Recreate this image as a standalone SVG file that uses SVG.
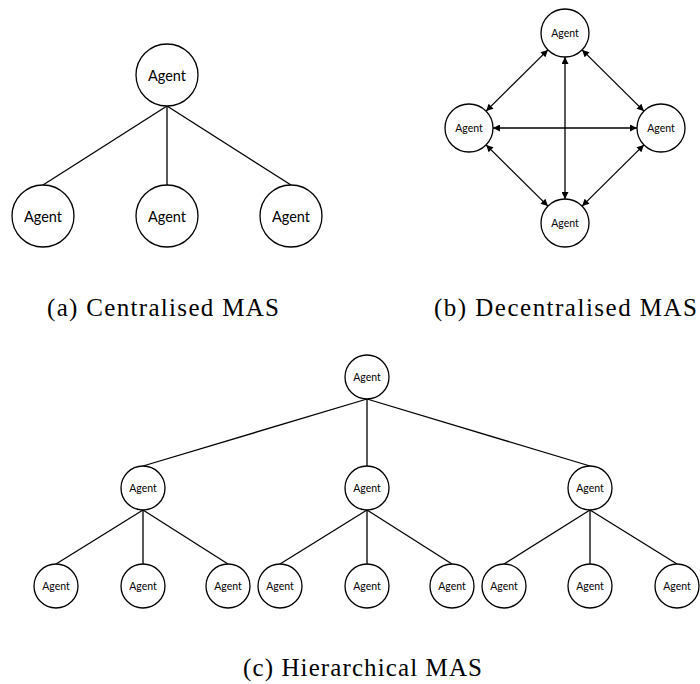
<svg xmlns="http://www.w3.org/2000/svg" width="700" height="684" viewBox="0 0 700 684">
  <style>
    .node circle { fill: #ffffff; stroke: #000000; stroke-width: 1.3; }
    .node text { font-family: Lato, "Open Sans", sans-serif; fill: #000000; text-anchor: middle; dominant-baseline: central; }
    .big text { font-size: 14.5px; }
    .small text { font-size: 10.5px; }
    .edge { stroke: #000000; stroke-width: 1.3; fill: none; }
    .arrow { marker-start: url(#head); marker-end: url(#head); }
    .caption { font-family: "Liberation Serif", "DejaVu Serif", serif; font-size: 25px; fill: #000000; }
  </style>
  <defs>
    <marker id="head" viewBox="0 0 10 10" refX="10" refY="5" markerUnits="userSpaceOnUse" markerWidth="8" markerHeight="7" orient="auto-start-reverse">
      <path d="M0,0 L10,5 L0,10 z" fill="#000000"/>
    </marker>
  </defs>
  <rect width="700" height="684" fill="#ffffff"/>

  <!-- connectors -->
  <g id="connectors">
    <!-- (a) centralised -->
    <line class="edge" x1="167" y1="106" x2="43" y2="185"/>
    <line class="edge" x1="167" y1="106" x2="167" y2="185"/>
    <line class="edge" x1="167" y1="106" x2="291" y2="185"/>
    <!-- (b) decentralised, two-way links -->
    <line class="edge arrow" x1="547.9" y1="49.9" x2="486.1" y2="111.1"/>
    <line class="edge arrow" x1="582.1" y1="49.9" x2="643.9" y2="111.1"/>
    <line class="edge arrow" x1="493" y1="128" x2="637" y2="128"/>
    <line class="edge arrow" x1="565" y1="57" x2="565" y2="199"/>
    <line class="edge arrow" x1="486.1" y1="144.9" x2="547.9" y2="206.1"/>
    <line class="edge arrow" x1="643.9" y1="144.9" x2="582.1" y2="206.1"/>
    <!-- (c) hierarchical -->
    <line class="edge" x1="367" y1="399" x2="143" y2="466"/>
    <line class="edge" x1="367" y1="399" x2="367" y2="466"/>
    <line class="edge" x1="367" y1="399" x2="590" y2="466"/>
    <line class="edge" x1="143" y1="510" x2="56" y2="564"/>
    <line class="edge" x1="143" y1="510" x2="143" y2="564"/>
    <line class="edge" x1="143" y1="510" x2="228" y2="564"/>
    <line class="edge" x1="367" y1="510" x2="280" y2="564"/>
    <line class="edge" x1="367" y1="510" x2="367" y2="564"/>
    <line class="edge" x1="367" y1="510" x2="452" y2="564"/>
    <line class="edge" x1="590" y1="510" x2="504" y2="564"/>
    <line class="edge" x1="590" y1="510" x2="590" y2="564"/>
    <line class="edge" x1="590" y1="510" x2="677" y2="564"/>
  </g>

  <!-- (a) centralised nodes -->
  <g class="big">
    <g id="a-root" class="node"><circle cx="167" cy="75" r="31"/><text x="167" y="75">Agent</text></g>
    <g id="a-1" class="node"><circle cx="43" cy="216" r="31"/><text x="43" y="216">Agent</text></g>
    <g id="a-2" class="node"><circle cx="167" cy="216" r="31"/><text x="167" y="216">Agent</text></g>
    <g id="a-3" class="node"><circle cx="291" cy="216" r="31"/><text x="291" y="216">Agent</text></g>
  </g>

  <!-- (b) decentralised nodes -->
  <g class="small">
    <g id="b-top" class="node"><circle cx="565" cy="33" r="24"/><text x="565" y="33">Agent</text></g>
    <g id="b-left" class="node"><circle cx="469" cy="128" r="24"/><text x="469" y="128">Agent</text></g>
    <g id="b-right" class="node"><circle cx="661" cy="128" r="24"/><text x="661" y="128">Agent</text></g>
    <g id="b-bottom" class="node"><circle cx="565" cy="223" r="24"/><text x="565" y="223">Agent</text></g>
  </g>

  <!-- (c) hierarchical nodes -->
  <g class="small">
    <g id="c-root" class="node"><circle cx="367" cy="377" r="22"/><text x="367" y="377">Agent</text></g>
    <g id="c-m1" class="node"><circle cx="143" cy="488" r="22"/><text x="143" y="488">Agent</text></g>
    <g id="c-m2" class="node"><circle cx="367" cy="488" r="22"/><text x="367" y="488">Agent</text></g>
    <g id="c-m3" class="node"><circle cx="590" cy="488" r="22"/><text x="590" y="488">Agent</text></g>
    <g id="c-l1" class="node"><circle cx="56" cy="586" r="22"/><text x="56" y="586">Agent</text></g>
    <g id="c-l2" class="node"><circle cx="143" cy="586" r="22"/><text x="143" y="586">Agent</text></g>
    <g id="c-l3" class="node"><circle cx="228" cy="586" r="22"/><text x="228" y="586">Agent</text></g>
    <g id="c-l4" class="node"><circle cx="280" cy="586" r="22"/><text x="280" y="586">Agent</text></g>
    <g id="c-l5" class="node"><circle cx="367" cy="586" r="22"/><text x="367" y="586">Agent</text></g>
    <g id="c-l6" class="node"><circle cx="452" cy="586" r="22"/><text x="452" y="586">Agent</text></g>
    <g id="c-l7" class="node"><circle cx="504" cy="586" r="22"/><text x="504" y="586">Agent</text></g>
    <g id="c-l8" class="node"><circle cx="590" cy="586" r="22"/><text x="590" y="586">Agent</text></g>
    <g id="c-l9" class="node"><circle cx="677" cy="586" r="22"/><text x="677" y="586">Agent</text></g>
  </g>

  <!-- sub-figure captions -->
  <text class="caption" x="47" y="316" textLength="232" lengthAdjust="spacing">(a) Centralised MAS</text>
  <text class="caption" x="434" y="316" textLength="263" lengthAdjust="spacing">(b) Decentralised MAS</text>
  <text class="caption" x="243" y="676" textLength="239" lengthAdjust="spacing">(c) Hierarchical MAS</text>
</svg>
